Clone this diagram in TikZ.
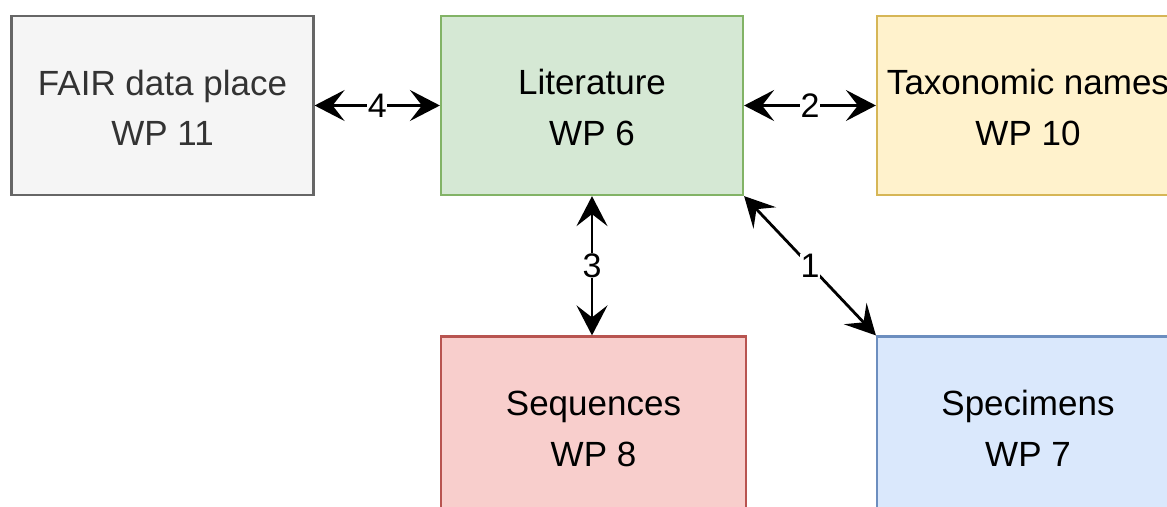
\documentclass[tikz,border=0pt]{standalone}
\usepackage{fontspec}
\setmainfont{Liberation Sans}
\usetikzlibrary{arrows.meta}
\definecolor{grayfill}{HTML}{F5F5F5}
\definecolor{graydraw}{HTML}{666666}
\definecolor{graytext}{HTML}{333333}
\definecolor{greenfill}{HTML}{D5E8D4}
\definecolor{greendraw}{HTML}{82B366}
\definecolor{yellowfill}{HTML}{FFF2CC}
\definecolor{yellowdraw}{HTML}{D6B656}
\definecolor{redfill}{HTML}{F8CECC}
\definecolor{reddraw}{HTML}{B85450}
\definecolor{bluefill}{HTML}{DAE8FC}
\definecolor{bluedraw}{HTML}{6C8EBF}
\newcommand{\topstrut}{\rule{0pt}{30pt}}
\tikzset{
  wpbox/.style={draw, line width=2.2pt, minimum width=302pt, minimum height=179pt,
    inner sep=0pt, align=center, font=\fontsize{35}{50.7}\selectfont},
  link/.style={line width=2.8pt, {Stealth[length=30pt,width=31pt,inset=12pt]}-{Stealth[length=30pt,width=31pt,inset=12pt]}},
  lbl/.style={fill=white, inner sep=0.5pt, font=\fontsize{34}{40}\selectfont}
}
\begin{document}
\begin{tikzpicture}[x=1pt,y=-1pt]
\useasboundingbox (0,0) rectangle (1167,506);
\clip (0,0) rectangle (1167,506);
\node[wpbox, fill=grayfill, draw=graydraw, text=graytext] (fair) at (162.5,105.5) {\topstrut FAIR data place\\WP 11};
\node[wpbox, fill=greenfill, draw=greendraw] (lit) at (592,105.5) {\topstrut Literature\\WP 6};
\node[wpbox, fill=yellowfill, draw=yellowdraw] (tax) at (1028,105.5) {\topstrut Taxonomic names\\WP 10};
\node[wpbox, fill=redfill, draw=reddraw, minimum width=305pt] (seq) at (593.5,426) {\topstrut Sequences\\WP 8};
\node[wpbox, fill=bluefill, draw=bluedraw] (spec) at (1028,426) {\topstrut Specimens\\WP 7};
\draw[link] (fair.east) -- node[lbl] {4} (lit.west);
\draw[link] (lit.east) -- node[lbl] {2} (tax.west);
\draw[link] (lit.south) -- node[lbl] {3} (lit.south |- seq.north);
\draw[link] (lit.south east) -- node[lbl] {1} (spec.north west);
\end{tikzpicture}
\end{document}
